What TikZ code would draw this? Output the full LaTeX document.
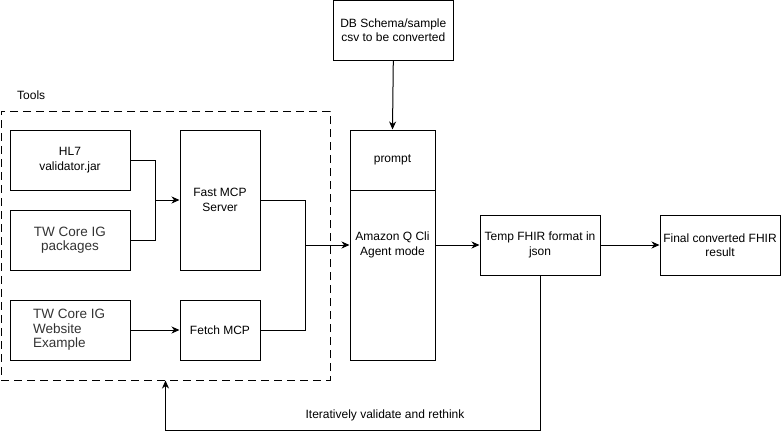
\documentclass[tikz,border=0pt]{standalone}
\usepackage{fontspec}
\setmainfont{Liberation Sans}
\usetikzlibrary{arrows.meta}
\definecolor{twgray}{HTML}{333333}
\begin{document}
\begin{tikzpicture}[x=1pt,y=-1pt,
  box/.style={draw,line width=1pt,rectangle,inner sep=0pt,align=center,font=\fontsize{12}{14.5}\selectfont},
  graytext/.style={text=twgray,font=\fontsize{13.5}{14.5}\selectfont},
  arr/.style={line width=1pt,-{Stealth[length=8pt,width=7pt,inset=2.5pt]}},
  ln/.style={line width=1pt},
  lbl/.style={font=\fontsize{12}{14.5}\selectfont,inner sep=0pt}]
\useasboundingbox (0,0) rectangle (781,439);
% Tools container
\node[draw,dash pattern=on 8pt off 5pt,line width=1pt,minimum width=329pt,minimum height=269pt,inner sep=0pt] (tools) at (165.5,245.5) {};
\node[lbl,anchor=west] (toolslbl) at (17,95) {Tools};
% left boxes
\node[box,minimum width=120pt,minimum height=60pt] (hl7) at (70,160) {HL7\\validator.jar};
\node[box,graytext,minimum width=120pt,minimum height=60pt] (pkg) at (70,240) {TW Core IG\\packages};
\node[box,minimum width=120pt,minimum height=60pt] (web) at (70,330) {};
\node[graytext,align=left,inner sep=0pt,anchor=west] (webtxt) at (33,330) {TW Core IG\\Website\\Example};
% MCP boxes
\node[box,minimum width=80pt,minimum height=140pt] (fast) at (220,200) {Fast MCP\\Server};
\node[box,minimum width=80pt,minimum height=60pt] (fetch) at (220,330) {Fetch MCP};
% DB schema
\node[box,minimum width=120pt,minimum height=60pt] (db) at (393.3,30) {DB Schema/sample\\csv to be converted};
% Amazon Q
\node[box,minimum width=85pt,minimum height=230pt] (amazon) at (392.5,245) {Amazon Q Cli\\Agent mode};
\node[box,minimum width=85pt,minimum height=60pt] (prompt) at (392.5,160) {prompt};
% outputs
\node[box,minimum width=120pt,minimum height=60pt] (temp) at (540,245) {Temp FHIR format in\\json};
\node[box,minimum width=120pt,minimum height=60pt] (final) at (720,245) {Final converted FHIR\\result};
% connectors
\coordinate (j1) at (155,200);
\coordinate (j2) at (305,245);
\draw[ln] (hl7.east) -| (j1);
\draw[ln] (pkg.east) -| (j1);
\draw[arr] (j1) -- (fast.west);
\draw[arr] (web.east) -- (fetch.west);
\draw[ln] (fast.east) -| (j2);
\draw[ln] (fetch.east) -| (j2);
\draw[arr] (j2) -- (amazon.west);
\draw[arr] (db.south) -- (prompt.north);
\draw[arr] (amazon.east) -- (temp.west);
\draw[arr] (temp.east) -- (final.west);
\coordinate (fb) at (540,430);
\draw[arr] (temp.south) -- (fb) -| (tools.south);
\node[lbl] (fblbl) at (385,415) {Iteratively validate and rethink};
\end{tikzpicture}
\end{document}
